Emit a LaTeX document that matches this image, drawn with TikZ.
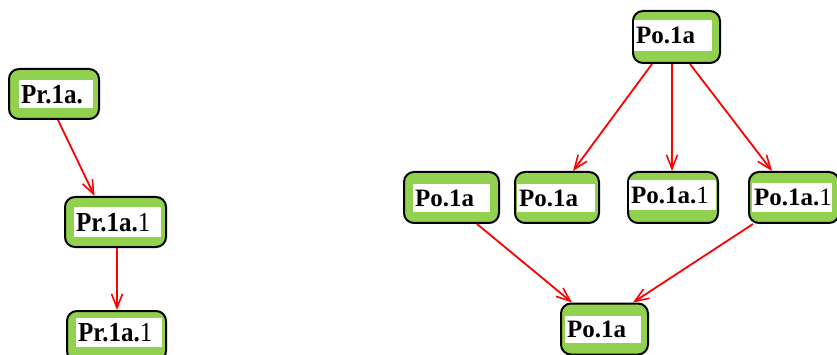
\documentclass[tikz,border=0pt]{standalone}
\usepackage{fontspec}
\usepackage{graphicx}
\setmainfont{Liberation Serif}
\usetikzlibrary{arrows.meta}
\definecolor{boxgreen}{RGB}{146,208,80}
\definecolor{linkred}{RGB}{255,0,0}
\tikzset{
  box/.style={draw=black, line width=2pt, fill=boxgreen, rounded corners=10pt,
    inner sep=0pt},
  label/.style={fill=white, inner xsep=2pt, inner ysep=0pt, align=left,
    anchor=north west, font=\fontsize{25}{27}\selectfont\bfseries},
  link/.style={draw=linkred, line width=1.8pt,
    -{Straight Barb[length=14pt, width=11pt, line width=1.6pt]}},
}
\newcommand{\prtext}[1]{\scalebox{1}[1.1]{#1}}
\begin{document}
\begin{tikzpicture}[x=1pt, y=-1pt]
  \clip (0,0) rectangle (837,355);
  \fill[white] (0,0) rectangle (837,355);

  % left chain
  \node[box, minimum width=90pt, minimum height=50pt] (A) at (54,94) {};
  \node[label, text width=70pt, minimum height=28pt] (Al) at (19,80) {\prtext{Pr.1a.}};
  \node[box, minimum width=101pt, minimum height=50pt] (B) at (115.5,222) {};
  \node[label, text width=83pt, minimum height=30pt] (Bl) at (74,207) {\prtext{Pr.1a.{\mdseries 1}}};
  \node[box, minimum width=99pt, minimum height=50pt] (C) at (116.5,336) {};
  \node[label, text width=82pt, minimum height=29pt] (Cl) at (76,318) {\prtext{Pr.1a.{\mdseries 1}}};

  % right tree
  \node[box, minimum width=87pt, minimum height=52pt] (D) at (676.5,37) {};
  \node[label, text width=74pt, minimum height=31pt] (Dl) at (634,20) {Po.1a};
  \node[box, minimum width=95pt, minimum height=51pt] (E) at (451.5,197.5) {};
  \node[label, text width=73pt, minimum height=28pt] (El) at (413,184) {Po.1a};
  \node[box, minimum width=84pt, minimum height=51pt] (F) at (557,197.5) {};
  \node[label, text width=74pt, minimum height=28pt] (Fl) at (517,184) {Po.1a};
  \node[box, minimum width=90pt, minimum height=51pt] (G) at (673,197.5) {};
  \node[label, text width=83pt, minimum height=30pt] (Gl) at (629,180) {Po.1a.{\mdseries 1}};
  \node[box, minimum width=90pt, minimum height=51pt] (H) at (794,197.5) {};
  \node[label, text width=76pt, minimum height=29pt] (Hl) at (752,183) {Po.1a.{\mdseries 1}};
  \node[box, minimum width=87pt, minimum height=51pt] (I) at (604.5,329) {};
  \node[label, text width=72pt, minimum height=27pt] (Il) at (565,316) {Po.1a};

  % connectors
  \draw[link] ([xshift=4pt]A.south) -- ([xshift=-21pt]B.north);
  \draw[link] ([xshift=1.5pt]B.south) -- ([xshift=0.5pt]C.north);
  \draw[link] ([xshift=-24.5pt]D.south) -- ([xshift=16pt]F.north);
  \draw[link] ([xshift=-4.5pt]D.south) -- ([xshift=-1pt]G.north);
  \draw[link] ([xshift=13.5pt]D.south) -- ([xshift=-22pt]H.north);
  \draw[link] ([xshift=25.5pt]E.south) -- ([xshift=-32.5pt]I.north);
  \draw[link] ([xshift=-41pt]H.south) -- ([xshift=28.5pt]I.north);
\end{tikzpicture}
\end{document}
